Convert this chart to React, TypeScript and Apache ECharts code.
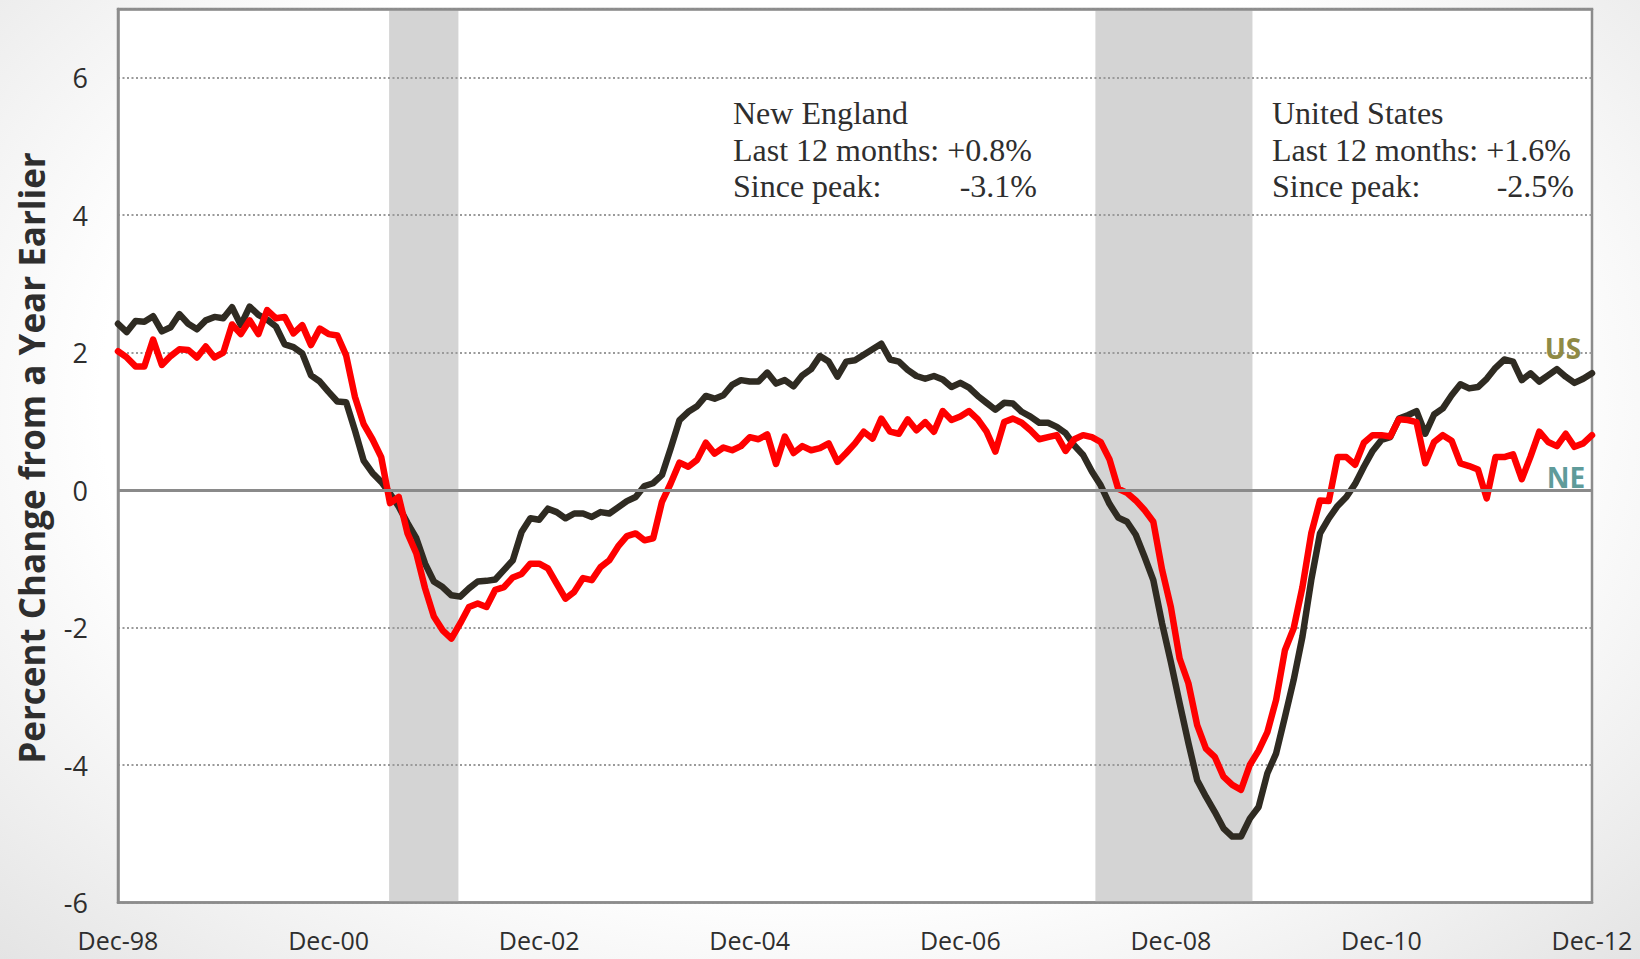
import React, { useEffect, useRef } from 'react';
import * as echarts from 'echarts';

// Month index 0 = Dec-98 ... 168 = Dec-12 (monthly, year-over-year % change)
const xTickLabels = ['Dec-98', 'Dec-00', 'Dec-02', 'Dec-04', 'Dec-06', 'Dec-08', 'Dec-10', 'Dec-12'];

const usValues = [
  2.42, 2.30, 2.46, 2.45, 2.53, 2.31, 2.37, 2.56, 2.42, 2.34, 2.47, 2.52,
  2.50, 2.66, 2.40, 2.67, 2.55, 2.48, 2.38, 2.12, 2.08, 1.99, 1.67, 1.58,
  1.43, 1.29, 1.28, 0.87, 0.43, 0.25, 0.12, -0.05, -0.24, -0.48, -0.70, -1.07,
  -1.33, -1.41, -1.53, -1.55, -1.43, -1.33, -1.32, -1.30, -1.16, -1.02, -0.61, -0.41,
  -0.43, -0.27, -0.32, -0.41, -0.34, -0.34, -0.39, -0.32, -0.34, -0.25, -0.16, -0.10,
  0.06, 0.10, 0.22, 0.61, 1.02, 1.14, 1.22, 1.37, 1.33, 1.38, 1.53, 1.60,
  1.58, 1.58, 1.71, 1.55, 1.60, 1.51, 1.67, 1.76, 1.95, 1.87, 1.65, 1.87,
  1.89, 1.97, 2.05, 2.13, 1.90, 1.87, 1.75, 1.66, 1.62, 1.66, 1.61, 1.50,
  1.56, 1.49, 1.37, 1.27, 1.17, 1.27, 1.26, 1.14, 1.07, 0.98, 0.98, 0.92,
  0.83, 0.65, 0.51, 0.27, 0.07, -0.20, -0.40, -0.46, -0.65, -0.97, -1.31, -1.94,
  -2.50, -3.10, -3.68, -4.22, -4.46, -4.68, -4.92, -5.04, -5.04, -4.78, -4.61, -4.12,
  -3.83, -3.30, -2.76, -2.13, -1.31, -0.63, -0.41, -0.23, -0.10, 0.09, 0.34, 0.57,
  0.73, 0.77, 1.04, 1.09, 1.15, 0.82, 1.10, 1.19, 1.38, 1.54, 1.48, 1.50,
  1.62, 1.78, 1.90, 1.87, 1.60, 1.70, 1.58, 1.67, 1.76, 1.65, 1.56, 1.62,
  1.70,
];

const neValues = [
  2.02, 1.93, 1.80, 1.80, 2.19, 1.82, 1.95, 2.05, 2.04, 1.93, 2.09, 1.93,
  2.00, 2.41, 2.27, 2.47, 2.27, 2.62, 2.50, 2.52, 2.28, 2.40, 2.11, 2.35,
  2.27, 2.25, 1.96, 1.36, 0.96, 0.74, 0.48, -0.19, -0.10, -0.63, -0.92, -1.43,
  -1.84, -2.04, -2.16, -1.94, -1.70, -1.65, -1.70, -1.45, -1.41, -1.27, -1.22, -1.07,
  -1.07, -1.14, -1.36, -1.58, -1.48, -1.28, -1.31, -1.12, -1.02, -0.82, -0.67, -0.63,
  -0.73, -0.70, -0.17, 0.10, 0.40, 0.34, 0.44, 0.69, 0.53, 0.62, 0.58, 0.64,
  0.77, 0.74, 0.81, 0.38, 0.78, 0.54, 0.64, 0.58, 0.61, 0.68, 0.41, 0.54,
  0.68, 0.85, 0.75, 1.04, 0.85, 0.82, 1.03, 0.87, 0.99, 0.85, 1.15, 1.02,
  1.07, 1.15, 1.03, 0.85, 0.56, 0.99, 1.04, 0.98, 0.87, 0.74, 0.77, 0.80,
  0.57, 0.74, 0.80, 0.77, 0.70, 0.45, 0.02, -0.04, -0.15, -0.29, -0.46, -1.16,
  -1.70, -2.45, -2.81, -3.42, -3.76, -3.88, -4.17, -4.29, -4.36, -4.00, -3.79, -3.52,
  -3.05, -2.33, -2.01, -1.41, -0.63, -0.15, -0.16, 0.48, 0.48, 0.37, 0.69, 0.80,
  0.80, 0.78, 1.03, 1.02, 0.99, 0.39, 0.70, 0.80, 0.72, 0.39, 0.35, 0.30,
  -0.12, 0.48, 0.48, 0.52, 0.16, 0.49, 0.85, 0.70, 0.64, 0.82, 0.63, 0.68,
  0.80,
];

// Shaded recession bands, in month-index units along the x axis
const recessionBands = [
  [30.9, 38.8],
  [111.4, 129.3],
];

const neNotes = ['New England', 'Last 12 months: +0.8%', 'Since peak:', '-3.1%'];
const usNotes = ['United States', 'Last 12 months: +1.6%', 'Since peak:', '-2.5%'];

const toPairs = (vals: number[]) => vals.map((v, i) => [i, v]);

const AXIS_GRAY = '#8c8c8c';
const TEXT = '#2e2e2e';

export default function App() {
  const ref = useRef<HTMLDivElement>(null);

  useEffect(() => {
    if (!ref.current) return;
    const chart = echarts.init(ref.current, null, { renderer: 'svg' });

    const serifStyle = (text: string, align: string) => ({
      text,
      fontSize: 32,
      fontFamily: '"Liberation Serif", "Times New Roman", serif',
      fill: TEXT,
      textAlign: align,
      align,
      textVerticalAlign: 'middle',
      verticalAlign: 'middle',
    });

    const noteBlock = (notes: string[], left: number, right: number) => [
      { type: 'text', z: 20, x: left, y: 113, style: serifStyle(notes[0], 'left') },
      { type: 'text', z: 20, x: left, y: 149.5, style: serifStyle(notes[1], 'left') },
      { type: 'text', z: 20, x: left, y: 186, style: serifStyle(notes[2], 'left') },
      { type: 'text', z: 20, x: right, y: 186, style: serifStyle(notes[3], 'right') },
    ];

    chart.setOption({
      animation: false,
      textStyle: { fontFamily: '"Open Sans", sans-serif' },
      grid: {
        left: 118,
        right: 48,
        top: 9,
        bottom: 56.5,
        show: true,
        backgroundColor: '#ffffff',
        borderColor: AXIS_GRAY,
        borderWidth: 2.5,
        z: 0,
      },
      xAxis: [
        {
          type: 'value',
          min: 0,
          max: 168,
          interval: 24,
          z: 2,
          axisLine: { show: true, onZero: false, lineStyle: { color: AXIS_GRAY, width: 2.5 } },
          axisTick: { show: false },
          splitLine: { show: false },
          axisLabel: {
            fontSize: 25,
            lineHeight: 25,
            color: TEXT,
            margin: 25,
            formatter: (v: number) => xTickLabels[Math.round(v / 24)] ?? '',
          },
        },
        {
          type: 'value',
          position: 'top',
          min: 0,
          max: 168,
          z: 2,
          axisLine: { show: true, onZero: false, lineStyle: { color: AXIS_GRAY, width: 2.5 } },
          axisTick: { show: false },
          splitLine: { show: false },
          axisLabel: { show: false },
        },
      ],
      yAxis: {
        type: 'value',
        min: -6,
        max: 7,
        interval: 2,
        z: 2,
        axisLine: { show: true, onZero: false, lineStyle: { color: AXIS_GRAY, width: 2.5 } },
        axisTick: { show: false },
        axisLabel: {
          fontSize: 27,
          color: TEXT,
          margin: 30,
          showMaxLabel: false,
          formatter: (v: number) => (v === 7 ? '' : String(v)),
        },
        splitLine: { show: true, lineStyle: { color: '#9a9a9a', width: 2, type: [2, 2.5] } },
      },
      series: [
        {
          name: 'Recession',
          type: 'line',
          data: [],
          z: 1,
          silent: true,
          markArea: {
            silent: true,
            itemStyle: { color: '#d4d4d4' },
            data: recessionBands.map(([a, b]) => [{ xAxis: a }, { xAxis: b }]),
          },
        },
        {
          name: 'Zero',
          type: 'line',
          data: [],
          z: 2.5,
          silent: true,
          markLine: {
            silent: true,
            symbol: ['none', 'none'],
            label: { show: false },
            lineStyle: { color: '#8a8a8a', width: 3, type: 'solid' },
            data: [{ yAxis: 0 }],
          },
        },
        {
          name: 'US',
          type: 'line',
          data: toPairs(usValues),
          symbol: 'none',
          showSymbol: false,
          z: 3,
          lineStyle: { color: '#2f2b22', width: 6.5, join: 'round', cap: 'round' },
        },
        {
          name: 'NE',
          type: 'line',
          data: toPairs(neValues),
          symbol: 'none',
          showSymbol: false,
          z: 4,
          lineStyle: { color: '#ff0000', width: 6.5, join: 'round', cap: 'round' },
        },
      ],
      graphic: [
        {
          type: 'text',
          z: 20,
          x: 31,
          y: 458,
          rotation: Math.PI / 2,
          style: {
            text: 'Percent Change from a Year Earlier',
            fontSize: 35,
            fontWeight: 'bold',
            fontFamily: '"Open Sans", sans-serif',
            fill: TEXT,
            textAlign: 'center',
            align: 'center',
            textVerticalAlign: 'middle',
            verticalAlign: 'middle',
          },
        },
        ...noteBlock(neNotes, 733, 1037),
        ...noteBlock(usNotes, 1272, 1574),
        {
          type: 'text',
          z: 20,
          x: 1563,
          y: 348,
          style: {
            text: 'US',
            fontSize: 28,
            fontWeight: 'bold',
            fontFamily: '"Open Sans", sans-serif',
            fill: '#8f8a45',
            textAlign: 'center',
            align: 'center',
            textVerticalAlign: 'middle',
            verticalAlign: 'middle',
          },
        },
        {
          type: 'text',
          z: 20,
          x: 1566,
          y: 477,
          style: {
            text: 'NE',
            fontSize: 28,
            fontWeight: 'bold',
            fontFamily: '"Open Sans", sans-serif',
            fill: '#5f9b9a',
            textAlign: 'center',
            align: 'center',
            textVerticalAlign: 'middle',
            verticalAlign: 'middle',
          },
        },
      ],
    });

    return () => chart.dispose();
  }, []);

  return (
    <div
      ref={ref}
      style={{
        position: 'absolute',
        left: 0,
        top: 0,
        width: 1640,
        height: 959,
        background: 'radial-gradient(ellipse at 50% 42%, #ffffff 62%, #e4e4e4 100%)',
      }}
    />
  );
}
